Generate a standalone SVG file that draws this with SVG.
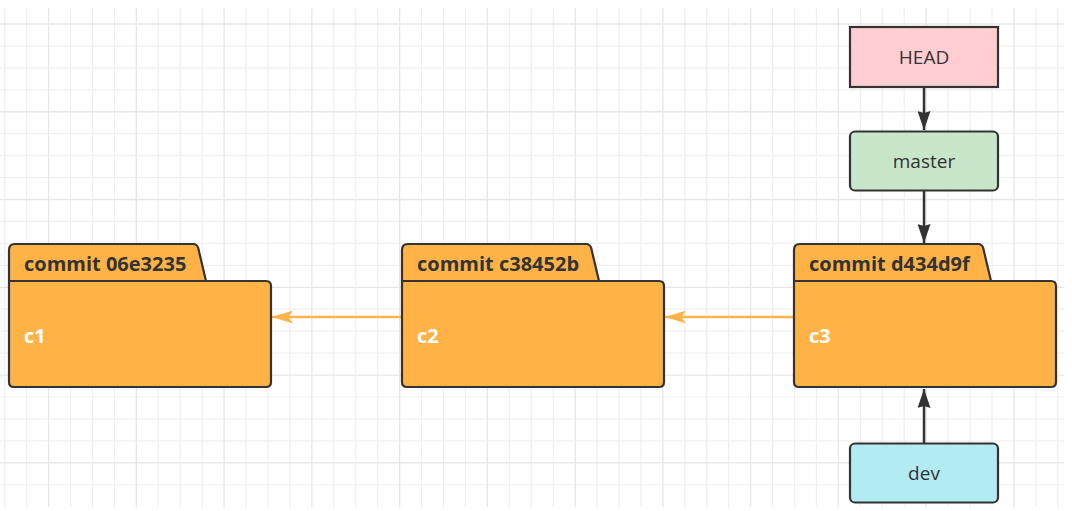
<svg xmlns="http://www.w3.org/2000/svg" width="1072" height="511" viewBox="0 0 1072 511">
  <style>
    .grid-minor { stroke: #efefef; stroke-width: 1.2; fill: none; }
    .grid-major { stroke: #e6e6e6; stroke-width: 1.3; fill: none; }
    .folder { fill: #ffb347; stroke: #333333; stroke-width: 2.2; stroke-linejoin: round; }
    .folder-title { font-family: "Open Sans", "Liberation Sans", sans-serif; font-size: 20px; font-weight: bold; fill: #333333; }
    .folder-label { font-family: "Open Sans", "Liberation Sans", sans-serif; font-size: 20px; font-weight: bold; fill: #ffffff; }
    .ref-box { stroke: #333333; stroke-width: 2.2; }
    .ref-text { font-family: "Open Sans", "Liberation Sans", sans-serif; font-size: 19px; fill: #333333; text-anchor: middle; }
    .link-parent { stroke: #ffb34b; stroke-width: 2.5; fill: none; }
    .link-ref { stroke: #333333; stroke-width: 2.5; fill: none; }
  </style>
  <defs>
    <marker id="arrow-orange" viewBox="0 0 21 13" refX="21" refY="6.5" markerWidth="21" markerHeight="13" markerUnits="userSpaceOnUse" orient="auto">
      <path d="M0,0 L21,6.5 L0,13 L4.5,6.5 Z" fill="#ffb34b"/>
    </marker>
    <marker id="arrow-dark" viewBox="0 0 19 13" refX="19" refY="6.5" markerWidth="19" markerHeight="13" markerUnits="userSpaceOnUse" orient="auto">
      <path d="M0,0 L19,6.5 L0,13 L2,6.5 Z" fill="#333333"/>
    </marker>
    <!-- folder outline: tab on top-left, body below -->
    <path id="folder-shape" d="M0,138 L0,6 Q0,0 6,0 L184,0 Q188,0 189.2,4 L197,37 L257,37 Q262,37 262,42 L262,138 Q262,143 257,143 L5,143 Q0,143 0,138 Z"/>
  </defs>

  <rect width="1072" height="511" fill="#ffffff"/>

  <!-- background grid -->
  <g id="grid">
    <path class="grid-minor" d="M4.7,8V507 M26.64,8V507 M70.52,8V507 M92.46,8V507 M114.4,8V507 M158.28,8V507 M180.22,8V507 M202.16,8V507 M246.04,8V507 M267.98,8V507 M289.92,8V507 M333.8,8V507 M355.74,8V507 M377.68,8V507 M421.56,8V507 M443.5,8V507 M465.44,8V507 M509.32,8V507 M531.26,8V507 M553.2,8V507 M597.08,8V507 M619.02,8V507 M640.96,8V507 M684.84,8V507 M706.78,8V507 M728.72,8V507 M772.6,8V507 M794.54,8V507 M816.48,8V507 M860.36,8V507 M882.3,8V507 M904.24,8V507 M948.12,8V507 M970.06,8V507 M992,8V507 M1035.88,8V507 M1057.82,8V507
      M0,45.94H1064 M0,67.88H1064 M0,89.82H1064 M0,133.7H1064 M0,155.64H1064 M0,177.58H1064 M0,221.46H1064 M0,243.4H1064 M0,265.34H1064 M0,309.22H1064 M0,331.16H1064 M0,353.1H1064 M0,396.98H1064 M0,418.92H1064 M0,440.86H1064 M0,484.74H1064"/>
    <path class="grid-major" d="M48.58,8V507 M136.34,8V507 M224.1,8V507 M311.86,8V507 M399.62,8V507 M487.38,8V507 M575.14,8V507 M662.9,8V507 M750.66,8V507 M838.42,8V507 M926.18,8V507 M1013.94,8V507
      M0,24H1064 M0,111.76H1064 M0,199.52H1064 M0,287.28H1064 M0,375.04H1064 M0,462.8H1064"/>
  </g>

  <!-- connectors -->
  <g id="connectors">
    <line class="link-parent" x1="402" y1="317" x2="272" y2="317" marker-end="url(#arrow-orange)"/>
    <line class="link-parent" x1="794" y1="317" x2="665" y2="317" marker-end="url(#arrow-orange)"/>
    <line class="link-ref" x1="924" y1="87" x2="924" y2="130" marker-end="url(#arrow-dark)"/>
    <line class="link-ref" x1="924" y1="191" x2="924" y2="243" marker-end="url(#arrow-dark)"/>
    <line class="link-ref" x1="924" y1="443" x2="924" y2="389" marker-end="url(#arrow-dark)"/>
  </g>

  <!-- commits -->
  <g id="commit-c1" transform="translate(9,244)">
    <use href="#folder-shape" class="folder"/>
    <path d="M0,37H197" stroke="#333333" stroke-width="2.2"/>
    <text class="folder-title" x="15" y="27">commit 06e3235</text>
    <text class="folder-label" x="15" y="99">c1</text>
  </g>
  <g id="commit-c2" transform="translate(402,244)">
    <use href="#folder-shape" class="folder"/>
    <path d="M0,37H197" stroke="#333333" stroke-width="2.2"/>
    <text class="folder-title" x="15" y="27">commit c38452b</text>
    <text class="folder-label" x="15" y="99">c2</text>
  </g>
  <g id="commit-c3" transform="translate(794,244)">
    <use href="#folder-shape" class="folder"/>
    <path d="M0,37H197" stroke="#333333" stroke-width="2.2"/>
    <text class="folder-title" x="15" y="27">commit d434d9f</text>
    <text class="folder-label" x="15" y="99">c3</text>
  </g>

  <!-- refs -->
  <g id="ref-head">
    <rect class="ref-box" x="850" y="27" width="148" height="60" fill="#ffcdd2"/>
    <text class="ref-text" x="924" y="64">HEAD</text>
  </g>
  <g id="ref-master">
    <rect class="ref-box" x="850" y="131.5" width="148" height="59" rx="5" fill="#c8e6c9"/>
    <text class="ref-text" x="924" y="168">master</text>
  </g>
  <g id="ref-dev">
    <rect class="ref-box" x="850" y="443.5" width="148" height="59" rx="5" fill="#b2ebf2"/>
    <text class="ref-text" x="924" y="480">dev</text>
  </g>
</svg>
